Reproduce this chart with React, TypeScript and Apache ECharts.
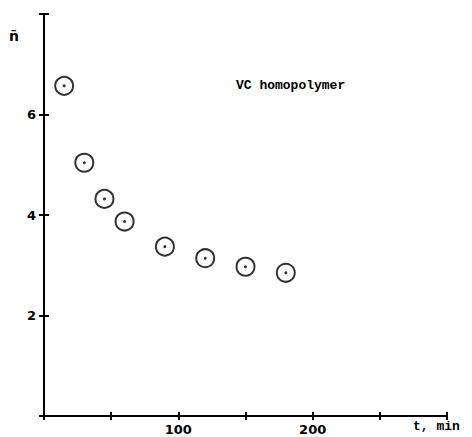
import React, { useEffect, useRef } from "react";
import * as echarts from "echarts";

// Reaction time (min) and mean sequence length n̄ for the VC homopolymer
const timeMin = [15, 30, 45, 60, 90, 120, 150, 180];
const nBar = [6.57, 5.04, 4.32, 3.87, 3.37, 3.14, 2.97, 2.85];
const xLabelsShown = [100, 200];
const yLabelsShown = [2, 4, 6];

const INK = "#000";
const MONO = "'Liberation Mono', 'DejaVu Sans Mono', monospace";
const SANS = "'DejaVu Sans', sans-serif";

export default function App() {
  const ref = useRef<HTMLDivElement>(null);

  useEffect(() => {
    if (!ref.current) return;
    const chart = echarts.init(ref.current, null, { renderer: "svg" });
    const points = timeMin.map((t, i) => [t, nBar[i]]);

    const baseX = {
      type: "value" as const,
      min: 0,
      max: 300,
      interval: 50,
      splitLine: { show: false },
    };
    const baseY = {
      type: "value" as const,
      min: 0,
      max: 8,
      interval: 2,
      splitLine: { show: false },
    };

    chart.setOption({
      animation: false,
      backgroundColor: "#fff",
      grid: { left: 44, right: 25, top: 14, bottom: 21 },
      xAxis: [
        {
          ...baseX,
          position: "bottom",
          axisLine: { show: true, lineStyle: { color: INK, width: 2 } },
          axisTick: { show: true, length: 4, lineStyle: { color: INK, width: 2 } },
          axisLabel: {
            margin: 7,
            color: INK,
            fontFamily: SANS,
            fontWeight: "bold",
            fontSize: 13,
            formatter: (v: number) => (xLabelsShown.includes(v) ? String(v) : ""),
          },
        },
        {
          ...baseX,
          position: "bottom",
          axisLine: { show: false },
          axisTick: { show: true, inside: true, length: 4, lineStyle: { color: INK, width: 2 } },
          axisLabel: { show: false },
        },
      ],
      yAxis: [
        {
          ...baseY,
          position: "left",
          axisLine: { show: true, lineStyle: { color: INK, width: 2 } },
          axisTick: { show: true, length: 5, lineStyle: { color: INK, width: 2 } },
          axisLabel: {
            margin: 8,
            color: INK,
            fontFamily: SANS,
            fontWeight: "bold",
            fontSize: 13,
            formatter: (v: number) => (yLabelsShown.includes(v) ? String(v) : ""),
          },
        },
        {
          ...baseY,
          position: "left",
          axisLine: { show: false },
          axisTick: { show: true, inside: true, length: 5, lineStyle: { color: INK, width: 2 } },
          axisLabel: { show: false },
        },
      ],
      series: [
        {
          type: "scatter",
          data: points,
          symbol: "circle",
          symbolSize: 18,
          itemStyle: { color: "#fff", borderColor: INK, borderWidth: 2 },
          z: 2,
        },
        {
          type: "scatter",
          data: points,
          symbol: "circle",
          symbolSize: 3,
          itemStyle: { color: INK },
          z: 3,
        },
      ],
      graphic: [
        {
          type: "text",
          left: 236,
          top: 79,
          style: {
            text: "VC homopolymer",
            fill: INK,
            font: `bold 13px ${MONO}`,
          },
        },
        {
          type: "text",
          left: 413,
          top: 420,
          style: {
            text: "t, min",
            fill: INK,
            font: `bold 13px ${MONO}`,
          },
        },
        {
          type: "text",
          left: 9,
          top: 29,
          style: {
            text: "n\u0304",
            fill: INK,
            font: `bold 14px ${SANS}`,
          },
        },
      ],
    });

    return () => chart.dispose();
  }, []);

  return (
    <div
      ref={ref}
      style={{ position: "fixed", left: 0, top: 0, width: 472, height: 437, background: "#fff" }}
    />
  );
}
